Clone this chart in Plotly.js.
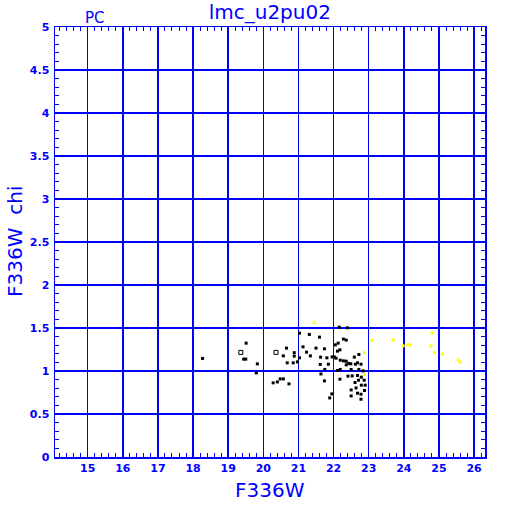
<!DOCTYPE html>
<html>
<head>
<meta charset="utf-8">
<script src="https://cdn.plot.ly/plotly-3.0.1.min.js"></script>
<style>html,body{margin:0;padding:0;background:#fff;}#chart{width:512px;height:512px;}</style>
</head>
<body>
<div id="chart"></div>
<script>
// Black (filled) points
const blackX = [18.27,19.51,19.44,19.50,19.83,19.80,21.03,21.31,21.60,20.66,21.13,21.23,21.50,20.88,20.88,20.57,21.34,21.03,20.68,20.85,20.97,21.62,20.28,20.40,20.48,20.57,20.73,
22.16,22.39,22.28,22.36,22.13,22.05,21.74,22.18,22.11,21.96,22.02,21.63,21.81,22.72,22.07,22.19,22.28,22.36,22.43,22.36,21.85,21.75,22.49,22.62,22.68,22.78,
22.11,22.19,22.50,22.72,22.84,21.64,22.41,22.53,22.68,22.79,22.18,21.74,22.71,22.61,22.87,22.79,22.64,22.50,22.68,22.78,21.95,21.89,22.50,22.78,22.90,22.88,22.59];
const blackY = [1.146,1.324,1.138,1.138,1.083,0.978,1.440,1.425,1.394,1.266,1.281,1.219,1.266,1.213,1.173,1.176,1.176,1.153,1.095,1.095,1.106,1.076,0.862,0.873,0.908,0.908,0.850,
1.510,1.502,1.371,1.359,1.324,1.304,1.258,1.246,1.231,1.164,1.164,1.161,1.153,1.192,1.149,1.126,1.118,1.114,1.088,1.071,1.079,1.018,1.083,1.079,1.095,1.079,
1.006,1.018,1.018,1.018,1.001,0.966,0.940,0.943,0.948,0.928,0.905,0.885,0.893,0.866,0.893,0.835,0.803,0.780,0.742,0.730,0.734,0.687,0.710,0.672,0.835,0.773,1.161];
// Open square points
const openX = [19.36,20.36];
const openY = [1.216,1.216];
// Yellow points
const yellowX = [21.45,23.10,22.88,22.88,23.69,23.98,24.11,24.19,24.80,24.77,24.87,25.10,25.55,25.61];
const yellowY = [1.560,1.355,1.211,0.957,1.359,1.293,1.304,1.304,1.444,1.293,1.216,1.196,1.126,1.103];

const xTicks = [15,16,17,18,19,20,21,22,23,24,25,26];
const yTicks = [0,0.5,1,1.5,2,2.5,3,3.5,4,4.5,5];
const yTickText = ['0','0.5','1','1.5','2','2.5','3','3.5','4','4.5','5'];

const BLUE = '#0000ff';
const tickFont = {family:'DejaVu Sans', size:11, color:BLUE, weight:'bold'};

const traces = [
  {x: blackX, y: blackY, type:'scatter', mode:'markers', marker:{symbol:'square', size:3, color:'#000'}, hoverinfo:'skip'},
  {x: openX, y: openY, type:'scatter', mode:'markers', marker:{symbol:'square-open', size:4, color:'#000', line:{width:1, color:'#000'}}, hoverinfo:'skip'},
  {x: yellowX, y: yellowY, type:'scatter', mode:'markers', marker:{symbol:'square', size:3, color:'#ffff00'}, hoverinfo:'skip'}
];

const axisCommon = {
  showline:true, linecolor:BLUE, linewidth:1.5, mirror:'allticks',
  showgrid:true, gridcolor:BLUE, gridwidth:1.5,
  ticks:'inside', tickcolor:BLUE, ticklen:8, tickwidth:1,
  zeroline:false, tickfont:tickFont
};

const layout = {
  width:512, height:512,
  margin:{l:55, r:27, t:27, b:55, pad:0},
  paper_bgcolor:'#fff', plot_bgcolor:'#fff',
  showlegend:false,
  title:{text:'lmc_u2pu02', font:{family:'DejaVu Sans', size:20, color:BLUE}, x:0.527, xanchor:'center', y:1-12/512, yanchor:'middle', yref:'container'},
  xaxis: Object.assign({}, axisCommon, {
    range:[14.07, 26.31], tickmode:'array', tickvals:xTicks, ticktext:xTicks.map(String),
    minor:{dtick:0.2, tick0:14, ticks:'inside', ticklen:4, tickcolor:BLUE, tickwidth:1, showgrid:false},
    ticklabelstandoff:0
  }),
  yaxis: Object.assign({}, axisCommon, {
    range:[0,5], tickmode:'array', tickvals:yTicks, ticktext:yTickText,
    minor:{dtick:0.1, tick0:0, ticks:'inside', ticklen:4, tickcolor:BLUE, tickwidth:1, showgrid:false},
    ticklabelstandoff:2
  }),
  annotations:[
    {text:'PC', xref:'paper', yref:'paper', x:0.094, y:1+9.5/430, xanchor:'center', yanchor:'middle', showarrow:false, font:{family:'DejaVu Sans', size:15, color:BLUE}},
    {text:'F336W', xref:'paper', yref:'paper', x:0.5, y:-(490-457)/430, xanchor:'center', yanchor:'middle', showarrow:false, font:{family:'DejaVu Sans', size:20, color:BLUE}},
    {text:'F336W  chi', xref:'paper', yref:'paper', x:(15-55)/430, y:0.5, xanchor:'center', yanchor:'middle', textangle:-90, showarrow:false, font:{family:'DejaVu Sans', size:20, color:BLUE}}
  ]
};

Plotly.newPlot('chart', traces, layout, {staticPlot:true, displayModeBar:false});
</script>
</body>
</html>
